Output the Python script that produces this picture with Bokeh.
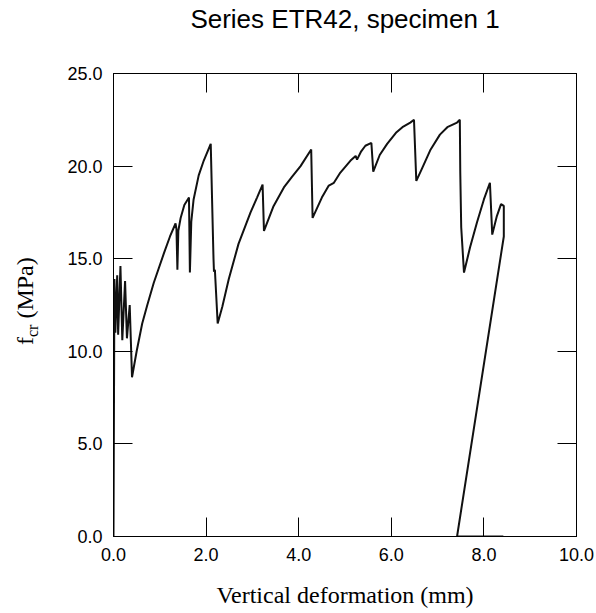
from bokeh.plotting import figure
from bokeh.layouts import row
from bokeh.models import (Range1d, FixedTicker, LinearAxis, Div,
                          PrintfTickFormatter, CustomJSTickFormatter, ColumnDataSource)
from bokeh.embed import file_html
from bokeh.resources import INLINE

# ---- data (deformation in mm, stress in MPa) ----
deformation_mm = [
    0.00, 0.02, 0.04, 0.08, 0.10, 0.15, 0.19, 0.25, 0.29, 0.35, 0.40,
    0.50, 0.62, 0.73, 0.87, 1.09, 1.22, 1.34, 1.36, 1.38, 1.40, 1.45, 1.53, 1.63,
    1.65, 1.68, 1.73, 1.84, 1.95, 2.10, 2.16, 2.17, 2.19, 2.20, 2.25,
    2.35, 2.49, 2.70, 2.96, 3.10, 3.22, 3.25, 3.45, 3.68, 3.85, 4.04, 4.27,
    4.30, 4.50, 4.65, 4.76, 4.90, 5.12, 5.23, 5.26, 5.35, 5.44, 5.57,
    5.61, 5.75, 5.91, 6.10, 6.24, 6.41, 6.49,
    6.54, 6.65, 6.85, 7.05, 7.21, 7.42, 7.48,
    7.49, 7.51, 7.57, 7.70, 7.85, 8.00, 8.13,
    8.18, 8.28, 8.37, 8.43, 8.43, 7.42, 8.42,
]
stress_mpa = [
    0.0, 13.9, 11.0, 14.1, 10.9, 14.6, 10.6, 13.8, 10.7, 12.5, 8.6,
    10.0, 11.5, 12.5, 13.7, 15.3, 16.2, 16.9, 16.6, 14.4, 16.5, 17.2, 17.9, 18.3,
    14.25, 17.0, 18.2, 19.5, 20.3, 21.2, 15.0, 14.3, 14.4, 13.9, 11.5,
    12.4, 13.9, 15.8, 17.5, 18.3, 19.0, 16.5, 17.8, 18.85, 19.4, 20.0, 20.9,
    17.2, 18.3, 18.95, 19.1, 19.65, 20.3, 20.55, 20.35, 20.8, 21.1, 21.25,
    19.7, 20.6, 21.2, 21.8, 22.1, 22.35, 22.5,
    19.2, 19.8, 20.9, 21.7, 22.1, 22.35, 22.5,
    19.6, 16.7, 14.25, 15.6, 16.95, 18.2, 19.1,
    16.3, 17.3, 17.95, 17.85, 16.2, 0.0, 0.0,
]
x_ticks = [0, 2, 4, 6, 8, 10]
y_ticks = [0, 5, 10, 15, 20, 25]
title_text = "Series ETR42, specimen 1"
x_label_text = "Vertical deformation (mm)"
y_label_main = "f"
y_label_sub = "cr"
y_label_unit = "(MPa)"

SANS = "Liberation Sans"
SERIF = "Liberation Serif"
LABEL_W = 60

src = ColumnDataSource(data=dict(deformation_mm=deformation_mm, stress_mpa=stress_mpa))

p = figure(frame_width=463, frame_height=463,
           min_border_left=113 - LABEL_W, min_border_right=20,
           min_border_top=71, min_border_bottom=79,
           x_range=Range1d(0, 10), y_range=Range1d(0, 25),
           x_axis_location=None, y_axis_location=None,
           output_backend="svg", toolbar_location=None)
for g in p.grid:
    g.visible = False
p.outline_line_color = "black"
p.outline_line_width = 1
p.background_fill_color = "white"
p.border_fill_color = "white"


def style_axis(ax, labels=True):
    ax.axis_line_color = "black"
    ax.axis_line_width = 1
    ax.major_tick_in = 19
    ax.major_tick_out = 0
    ax.major_tick_line_color = "black"
    ax.major_tick_line_width = 1
    ax.minor_tick_in = 0
    ax.minor_tick_out = 0
    ax.major_label_text_font = SANS
    ax.major_label_text_color = "black"
    if labels:
        ax.major_label_text_font_size = "18px"
        ax.major_label_standoff = 11
    else:
        ax.formatter = CustomJSTickFormatter(code="return ''")
        ax.major_label_text_font_size = "0px"
        ax.major_label_standoff = 0


# bottom axis with the x label
xb = LinearAxis(ticker=FixedTicker(ticks=x_ticks), formatter=PrintfTickFormatter(format="%.1f"))
style_axis(xb)
xb.axis_label = x_label_text
xb.axis_label_text_font = SERIF
xb.axis_label_text_font_style = "normal"
xb.axis_label_text_font_size = "24px"
xb.axis_label_text_color = "black"
xb.axis_label_standoff = 18
p.add_layout(xb, "below")

# left axis
yl = LinearAxis(ticker=FixedTicker(ticks=y_ticks), formatter=PrintfTickFormatter(format="%.1f"))
style_axis(yl)
p.add_layout(yl, "left")

# top axis (ticks only) carrying the chart title
xt = LinearAxis(ticker=FixedTicker(ticks=x_ticks))
style_axis(xt, labels=False)
xt.axis_label = title_text
xt.axis_label_text_font = SANS
xt.axis_label_text_font_style = "normal"
xt.axis_label_text_font_size = "26px"
xt.axis_label_text_color = "black"
xt.axis_label_standoff = 40
p.add_layout(xt, "above")

# right axis (ticks only)
yr = LinearAxis(ticker=FixedTicker(ticks=y_ticks))
style_axis(yr, labels=False)
p.add_layout(yr, "right")

p.line(x="deformation_mm", y="stress_mpa", source=src, line_color="#111111", line_width=2)

# rotated y label with a real subscript
ylabel_html = (
    '<div style="position:relative;width:%dpx;height:613px;">'
    '<span style="position:absolute;left:13px;top:345px;transform-origin:0 0;'
    'transform:rotate(-90deg);white-space:nowrap;font-family:\'%s\',serif;'
    'font-size:24px;line-height:24px;color:#000;">%s'
    '<sub style="font-size:16px;line-height:0;vertical-align:-5px;">%s</sub>'
    '&nbsp;%s</span></div>'
) % (LABEL_W, SERIF, y_label_main, y_label_sub, y_label_unit)
ydiv = Div(text=ylabel_html, width=LABEL_W, height=613, margin=0)

layout = row(ydiv, p, spacing=0)

open("out.html", "w").write(file_html(layout, INLINE))
